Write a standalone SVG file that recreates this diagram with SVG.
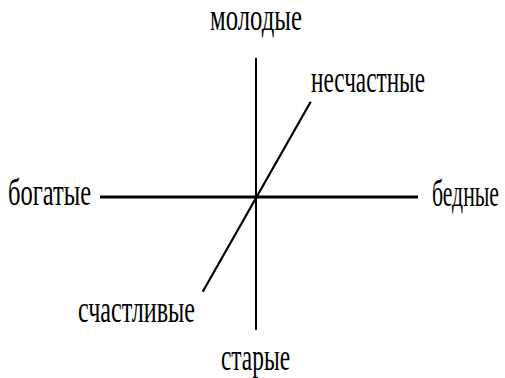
<svg xmlns="http://www.w3.org/2000/svg" width="505" height="378" viewBox="0 0 505 378">
<style>
text{font-family:"Liberation Serif","DejaVu Serif",serif;font-size:37px;fill:#000}
line{stroke:#000;stroke-linecap:butt}
</style>
<rect width="505" height="378" fill="#fff"/>
<g id="connectors">
<line x1="256" y1="58" x2="256" y2="330" stroke-width="2"/>
<line x1="100" y1="197" x2="418" y2="197" stroke-width="3"/>
<line x1="310.7" y1="101.7" x2="202.7" y2="291.7" stroke-width="2.2"/>
</g>
<g id="n-molodye"><text x="210" y="30" textLength="92" lengthAdjust="spacingAndGlyphs">молодые</text></g>
<g id="n-neschastnye"><text x="311" y="92" textLength="114" lengthAdjust="spacingAndGlyphs">несчастные</text></g>
<g id="n-bogatye"><text x="8" y="205" textLength="83" lengthAdjust="spacingAndGlyphs">богатые</text></g>
<g id="n-bednye"><text x="432" y="206" textLength="67" lengthAdjust="spacingAndGlyphs">бедные</text></g>
<g id="n-schastlivye"><text x="78" y="322" textLength="117" lengthAdjust="spacingAndGlyphs">счастливые</text></g>
<g id="n-starye"><text x="221" y="370" textLength="69" lengthAdjust="spacingAndGlyphs">старые</text></g>
</svg>
